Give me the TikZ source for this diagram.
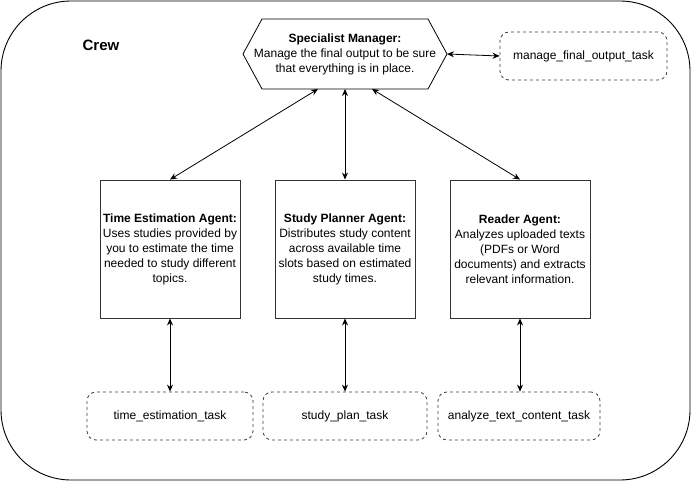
\documentclass[tikz,border=0pt]{standalone}
\usepackage{fontspec}
\setmainfont{Liberation Sans}
\usetikzlibrary{arrows.meta,shapes.geometric}
\begin{document}
\begin{tikzpicture}[x=1pt,y=-1pt,
  every node/.style={font=\fontsize{12}{15}\selectfont},
  agent/.style={draw=black!80,line width=0.9pt,minimum width=140pt,minimum height=138pt,align=center,inner sep=2pt},
  taskbox/.style={draw=black!75,dash pattern=on 3pt off 3pt,line width=0.8pt,rounded corners=9pt,minimum height=48pt,align=center,inner sep=2pt},
  conn/.style={{Stealth[length=7pt,width=6pt]}-{Stealth[length=7pt,width=6pt]},line width=0.8pt}]
\useasboundingbox (0,0) rectangle (691,481);
\draw[line width=0.9pt,rounded corners=70pt] (1,1) rectangle (690,480);
\node[font=\fontsize{15}{18}\selectfont\bfseries] (crew) at (101,45) {Crew};
% hexagon
\draw[line width=0.8pt] (243,54) -- (262,19) -- (428,19) -- (447,54) -- (428,89) -- (262,89) -- cycle;
\node[align=center] (mgr) at (345,54) {\textbf{Specialist Manager:}\\Manage the final output to be sure\\that everything is in place.};
\coordinate (mgrR) at (447,54);
\coordinate (mgrB1) at (318,89);
\coordinate (mgrB2) at (345,89);
\coordinate (mgrB3) at (372,89);
\node[taskbox,minimum width=167pt] (mfot) at (583.5,56) {manage\_final\_output\_task};
\node[agent] (tea) at (170,249) {\textbf{Time Estimation Agent:}\\Uses studies provided by\\you to estimate the time\\needed to study different\\topics.};
\node[agent] (spa) at (345,249) {\textbf{Study Planner Agent:}\\Distributes study content\\across available time\\slots based on estimated\\study times.};
\node[agent] (ra) at (520,249) {\textbf{Reader Agent:}\\Analyzes uploaded texts\\(PDFs or Word\\documents) and extracts\\relevant information.};
\node[taskbox,minimum width=166pt] (tet) at (170,416) {time\_estimation\_task};
\node[taskbox,minimum width=164pt] (spt) at (345,416) {study\_plan\_task};
\node[taskbox,minimum width=162pt] (att) at (519,416) {analyze\_text\_content\_task};
\draw[conn] (mgrR) -- (mfot.west);
\draw[conn] (mgrB1) -- (tea.north);
\draw[conn] (mgrB2) -- (spa.north);
\draw[conn] (mgrB3) -- (ra.north);
\draw[conn] (tea.south) -- (tet.north);
\draw[conn] (spa.south) -- (spt.north);
\draw[conn] (ra.south) -- (ra.south |- att.north);
\end{tikzpicture}
\end{document}
